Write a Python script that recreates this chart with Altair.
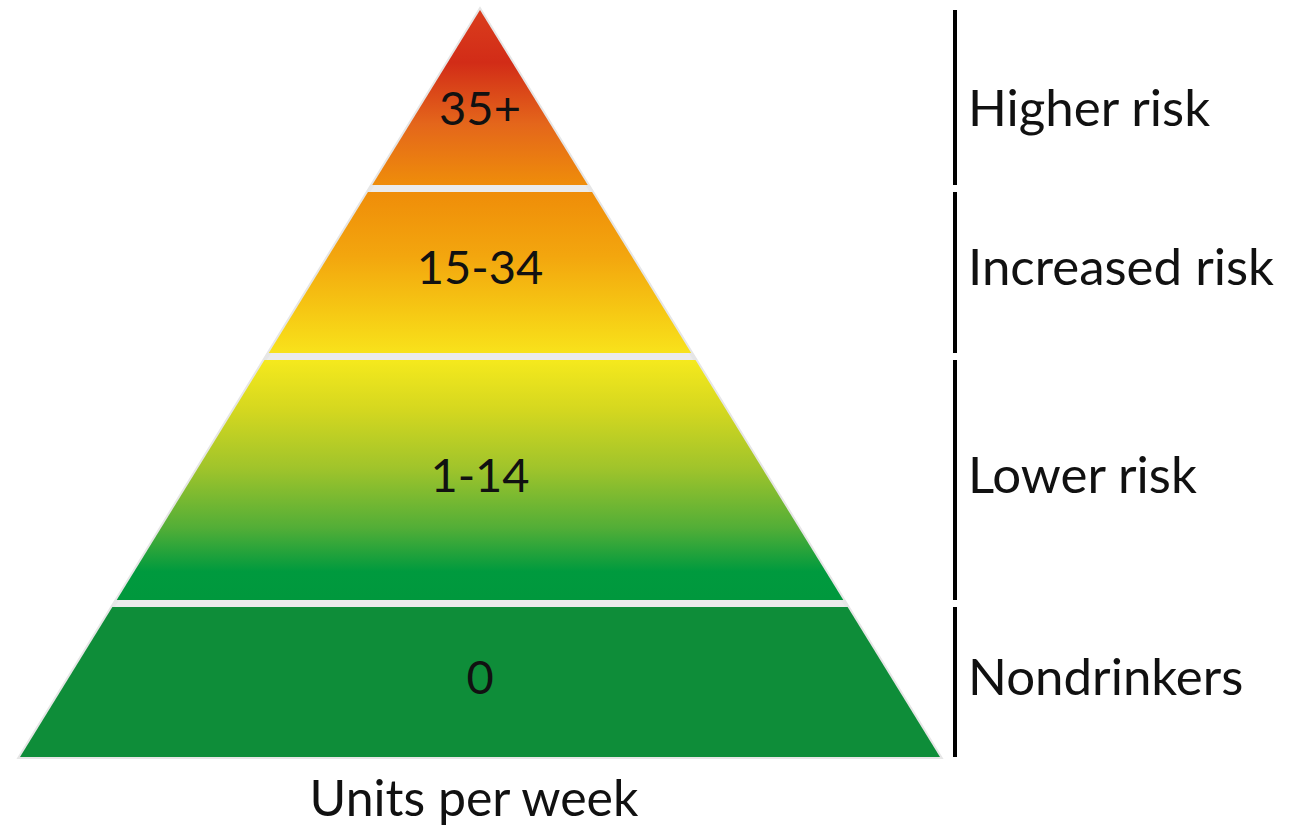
import altair as alt
import pandas as pd

# ---- data ----
band_labels = ["35+", "15-34", "1-14", "0"]
risk_labels = ["Higher risk", "Increased risk", "Lower risk", "Nondrinkers"]
# band extents in pyramid height units (0 = base, 747 = apex)
band_bottom = [572, 404, 157, 0]
band_top = [747, 565, 397, 150]
band_stops = [
    [("#da3d1d", 0.0), ("#d22c17", 0.3), ("#e4661b", 0.65), ("#ef8d0a", 1.0)],
    [("#ef8d09", 0.0), ("#f3a60e", 0.4), ("#f6c914", 0.75), ("#f8e21b", 1.0)],
    [("#f5e91d", 0.0), ("#d6d81f", 0.2), ("#a0c42b", 0.45), ("#52ae37", 0.7), ("#009a3e", 0.88), ("#00983d", 1.0)],
    [("#0e8d39", 0.0), ("#0e8d39", 1.0)],
]
label_dy = [13, -3, -2, -2]
axis_title = "Units per week"

PYR_H = 747.0
HALF = 460.0
CX = 480.0

xscale = alt.Scale(domain=[0, 1304], nice=False, zero=False)
yscale = alt.Scale(domain=[-71, 757], nice=False, zero=False)


def edge_rows(y):
    hw = HALF * (1 - y / PYR_H)
    return {"y": y, "xl": CX - hw, "xr": CX + hw}


layers = []

# light grey outline / gap colour under the bands
tri = pd.DataFrame([edge_rows(0), edge_rows(PYR_H)])
layers.append(
    alt.Chart(tri).mark_area(orient="horizontal", color="#ebebeb", stroke="#e6e6e6", strokeWidth=4).encode(
        y=alt.Y("y:Q", scale=yscale, axis=None),
        x=alt.X("xl:Q", scale=xscale, axis=None),
        x2="xr:Q",
    )
)

for i in range(len(band_labels)):
    b, t = band_bottom[i], band_top[i]
    df = pd.DataFrame([edge_rows(b), edge_rows(t)])
    grad = alt.Gradient(
        gradient="linear",
        stops=[alt.GradientStop(color=c, offset=o) for c, o in band_stops[i]],
        x1=0, x2=0, y1=0, y2=1,
    )
    layers.append(
        alt.Chart(df).mark_area(orient="horizontal", fill=grad, strokeWidth=0).encode(
            y=alt.Y("y:Q", scale=yscale, axis=None),
            x=alt.X("xl:Q", scale=xscale, axis=None),
            x2="xr:Q",
        )
    )
    info = pd.DataFrame([{
        "ymid": (b + t) / 2,
        "ylo": b,
        "yhi": t,
        "xc": CX,
        "xb": CX + HALF + 15,
        "xt": CX + HALF + 28,
        "num": band_labels[i],
        "risk": risk_labels[i],
    }])
    layers.append(
        alt.Chart(info).mark_rule(color="black", strokeWidth=4).encode(
            x=alt.X("xb:Q", scale=xscale, axis=None),
            y=alt.Y("ylo:Q", scale=yscale, axis=None),
            y2="yhi:Q",
        )
    )
    layers.append(
        alt.Chart(info).mark_text(font="Lato", fontSize=47, align="center", baseline="middle",
                                  color="#111111", dy=label_dy[i]).encode(
            x=alt.X("xc:Q", scale=xscale, axis=None),
            y=alt.Y("ymid:Q", scale=yscale, axis=None),
            text="num:N",
        )
    )
    layers.append(
        alt.Chart(info).mark_text(font="Lato", fontSize=51, align="left", baseline="middle",
                                  color="#111111", dy=label_dy[i]).encode(
            x=alt.X("xt:Q", scale=xscale, axis=None),
            y=alt.Y("ymid:Q", scale=yscale, axis=None),
            text="risk:N",
        )
    )

title_df = pd.DataFrame([{"x": CX - 6, "y": -44, "t": axis_title}])
layers.append(
    alt.Chart(title_df).mark_text(font="Lato", fontSize=50, align="center", baseline="middle",
                                  color="#111111").encode(
        x=alt.X("x:Q", scale=xscale, axis=None),
        y=alt.Y("y:Q", scale=yscale, axis=None),
        text="t:N",
    )
)

chart = alt.layer(*layers).properties(
    width=1304, height=828, padding=0, autosize="none", background="white"
).configure_view(stroke=None)

chart.save("out.html", embed_options={"renderer": "svg", "actions": False})
